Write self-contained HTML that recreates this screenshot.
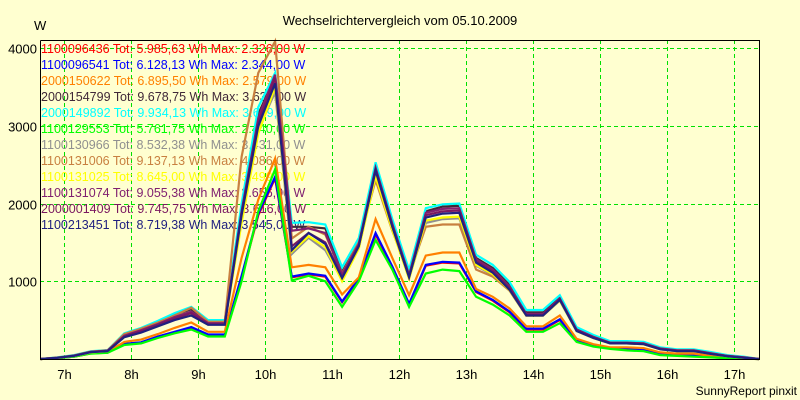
<!DOCTYPE html>
<html><head><meta charset="utf-8"><style>
html,body{margin:0;padding:0;background:#ffffd0;}
svg{display:block;font-family:"Liberation Sans",Arial,sans-serif;}
</style></head><body>
<svg id="chart" width="800" height="400" viewBox="0 0 800 400">
<rect x="0" y="0" width="800" height="400" fill="#ffffd0"/>
<text x="400" y="25" text-anchor="middle" font-size="13" fill="#000">Wechselrichtervergleich vom 05.10.2009</text>
<text x="34" y="30" font-size="13" fill="#000">W</text>
<text x="797" y="395" text-anchor="end" font-size="12" fill="#000">SunnyReport pinxit</text>
<g id="grid"></g>
<g id="ticks"></g>
<g id="legend"></g>
<g id="series"></g>
<g id="axes"></g>
</svg>
<script>
const times=[6.65,6.9,7.15,7.4,7.65,7.9,8.15,8.4,8.65,8.9,9.15,9.4,9.65,9.9,10.15,10.4,10.65,10.9,11.15,11.4,11.65,11.9,12.15,12.4,12.65,12.9,13.15,13.4,13.65,13.9,14.15,14.4,14.65,14.9,15.15,15.4,15.65,15.9,16.15,16.4,16.65,16.9,17.15,17.37];
const xTickLabels=["7h","8h","9h","10h","11h","12h","13h","14h","15h","16h","17h"];
const xTickHours=[7,8,9,10,11,12,13,14,15,16,17];
const yTickValues=[1000,2000,3000,4000];
const seriesNames=["1100096436 Tot: 5.985,63 Wh Max: 2.326,00 W","1100096541 Tot: 6.128,13 Wh Max: 2.344,00 W","2000150622 Tot: 6.895,50 Wh Max: 2.579,00 W","2000154799 Tot: 9.678,75 Wh Max: 3.634,00 W","2000149892 Tot: 9.934,13 Wh Max: 3.679,00 W","1100129553 Tot: 5.761,75 Wh Max: 2.440,00 W","1100130966 Tot: 8.532,38 Wh Max: 3.431,00 W","1100131006 Tot: 9.137,13 Wh Max: 4.086,00 W","1100131025 Tot: 8.645,00 Wh Max: 3.499,00 W","1100131074 Tot: 9.055,38 Wh Max: 3.656,00 W","2000001409 Tot: 9.745,75 Wh Max: 3.616,00 W","1100213451 Tot: 8.719,38 Wh Max: 3.545,00 W"];
const seriesColors=["#ff0000","#0000ff","#ff8000","#402838","#00ffff","#00ff00","#909090","#c88040","#ffff00","#802070","#7a1860","#202080"];
const sRed=[0,10,30,72,82,190,210,285,345,400,310,310,1050,1850,2326,1050,1090,1060,730,1030,1600,1180,700,1200,1240,1230,860,750,600,380,380,500,240,170,135,135,120,65,50,45,25,12,5,0];
const sBlue=[0,10,32,74,84,195,215,290,350,410,315,315,1070,1870,2344,1060,1100,1070,740,1040,1620,1190,710,1210,1250,1240,870,760,610,390,390,510,245,175,140,140,125,70,55,50,28,14,6,0];
const sOrange=[0,12,35,80,90,220,250,320,400,470,350,350,1300,2050,2579,1180,1210,1180,830,1050,1800,1300,820,1330,1370,1370,900,800,650,420,420,560,260,190,150,150,140,85,70,70,40,20,8,0];
const sDark=[0,18,45,95,110,310,380,470,570,640,470,470,1950,3150,3634,1700,1700,1680,1120,1500,2480,1760,1100,1900,1960,1970,1300,1170,950,600,600,790,390,290,215,215,205,140,115,115,80,45,25,0];
const sCyan=[0,20,50,100,115,330,400,490,590,670,500,500,2000,3240,3679,1750,1760,1730,1180,1555,2530,1800,1145,1940,1990,2000,1340,1210,990,630,630,820,410,310,230,230,220,150,125,125,90,50,30,0];
const sGreen=[0,10,30,70,80,180,200,270,330,380,290,290,1000,1900,2440,1010,1070,1000,670,1000,1530,1150,670,1100,1150,1130,800,700,560,350,350,460,220,160,130,110,100,50,40,30,20,10,5,0];
const sGray=[0,15,40,85,100,290,350,430,520,600,450,450,1800,2950,3431,1350,1560,1400,1020,1430,2380,1680,1040,1750,1800,1810,1200,1080,880,560,560,750,360,270,200,200,190,125,100,100,65,35,15,0];
const sBrown=[0,18,45,95,110,320,390,470,560,660,480,480,2600,3680,4086,1550,1700,1600,1100,1500,2300,1650,1080,1700,1730,1730,1150,1060,880,560,560,770,370,280,210,210,200,135,110,110,75,40,20,0];
const sYellow=[0,15,40,85,100,285,345,425,510,590,445,445,1750,2900,3499,1380,1580,1440,1000,1420,2350,1660,1030,1780,1820,1830,1210,1090,885,560,560,755,360,270,200,200,190,125,100,100,65,35,15,0];
const sPurple=[0,17,44,92,108,300,370,450,540,610,460,460,1900,3100,3656,1650,1680,1620,1090,1480,2460,1740,1080,1880,1930,1940,1280,1150,930,580,580,780,380,285,210,210,200,135,110,110,75,40,20,0];
const sPurple2=[0,16,42,90,105,290,360,440,520,590,450,450,1880,3050,3616,1450,1620,1500,1060,1460,2440,1720,1060,1850,1900,1910,1260,1130,910,570,570,770,370,280,205,205,195,130,105,105,70,38,18,0];
const sNavy=[0,15,40,88,100,280,340,420,500,560,440,440,1850,3000,3545,1400,1620,1480,1040,1450,2420,1700,1050,1820,1870,1880,1240,1110,890,560,560,760,360,270,200,200,190,125,100,100,65,35,15,0];
const seriesData=[sRed,sBlue,sOrange,sDark,sCyan,sGreen,sGray,sBrown,sYellow,sPurple,sPurple2,sNavy];

const NS="http://www.w3.org/2000/svg";
const PL=40,PR=759,PT=40,PB=359;
function xScale(h){return 64+(h-7)*67;}
function yScale(v){return 359-v*0.07775;}
function mk(tag,attrs,parent){const e=document.createElementNS(NS,tag);for(const k in attrs)e.setAttribute(k,attrs[k]);parent.appendChild(e);return e;}

const grid=document.getElementById('grid');
const ticks=document.getElementById('ticks');
xTickHours.forEach((h,i)=>{
  const x=Math.round(xScale(h))+0.5;
  const l=mk('line',{x1:x,x2:x,y1:PT,y2:PB,stroke:'#00e000','stroke-dasharray':'4,3','stroke-width':1},grid);
  
  
  const t=mk('text',{x:x,y:379,'text-anchor':'middle','font-size':13,fill:'#000'},ticks);
  t.textContent=xTickLabels[i];
  
  
});
yTickValues.forEach(v=>{
  const y=Math.round(yScale(v))+0.5;
  const l=mk('line',{x1:PL,x2:PR,y1:y,y2:y,stroke:'#00e000','stroke-dasharray':'4,3','stroke-width':1},grid);
  
  
  const t=mk('text',{x:37,y:y+5,'text-anchor':'end','font-size':13,fill:'#000'},ticks);
  t.textContent=String(v);
  
  
});

const legend=document.getElementById('legend');
seriesNames.forEach((n,i)=>{
  const t=mk('text',{x:41,y:53+i*16,'font-size':12.5,fill:seriesColors[i]},legend);
  t.textContent=n;
  
  
});

const sg=document.getElementById('series');
seriesData.forEach((d,i)=>{
  const pts=d.map((v,j)=>xScale(times[j]).toFixed(1)+','+yScale(v).toFixed(1)).join(' ');
  const p=mk('polyline',{points:pts,fill:'none',stroke:seriesColors[i],'stroke-width':2.2,'stroke-linejoin':'miter'},sg);
  
  
});

const axes=document.getElementById('axes');
const a1=mk('polyline',{points:`${PL+0.5},${PT+0.5} ${PL+0.5},${PB+0.5} ${PR+0.5},${PB+0.5} ${PR+0.5},${PT+0.5} ${PL+0.5},${PT+0.5}`,fill:'none',stroke:'#000','stroke-width':1},axes);


</script>
</body></html>
